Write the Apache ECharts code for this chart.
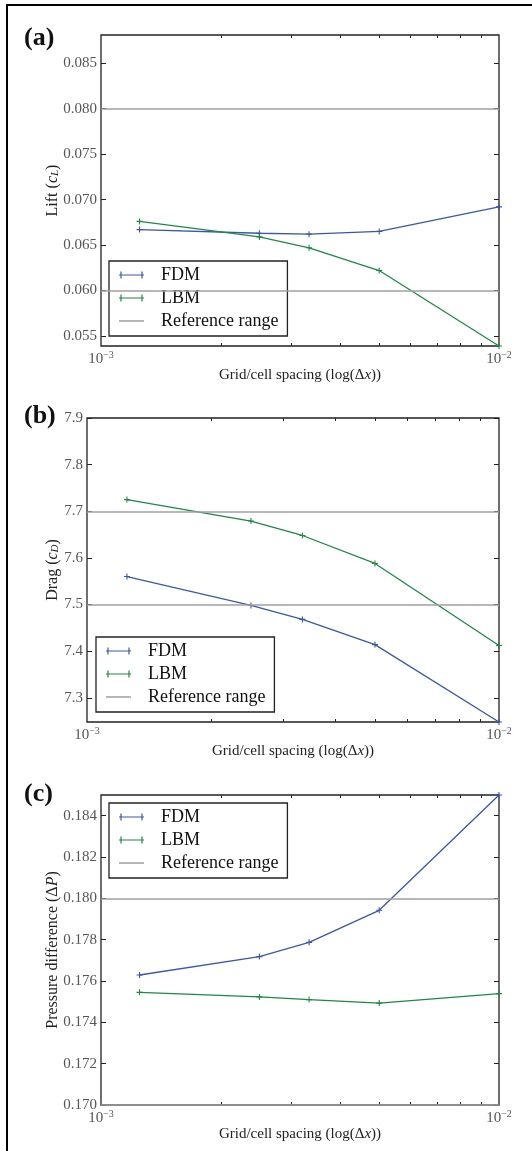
<!DOCTYPE html>
<html>
<head>
<meta charset="utf-8">
<script src="https://cdn.jsdelivr.net/npm/echarts@6/dist/echarts.min.js"></script>
<style>
html, body { margin: 0; padding: 0; background: #fff; }
#main { width: 532px; height: 1151px; }
</style>
</head>
<body>
<div id="main"></div>
<script>
// 网格间距 (Δx)
var spacing = [0.00125, 0.0025, 0.003333, 0.005, 0.01];

// (a) 升力
var liftFdm = [0.0667, 0.0663, 0.0662, 0.0665, 0.0692];
var liftLbm = [0.0676, 0.0659, 0.0647, 0.0622, 0.0539];
var liftRef = [0.060, 0.080];
var liftTicks = [0.055, 0.060, 0.065, 0.070, 0.075, 0.080, 0.085];

// (b) 阻力
var dragFdm = [7.560, 7.498, 7.468, 7.414, 7.248];
var dragLbm = [7.725, 7.679, 7.648, 7.588, 7.412];
var dragRef = [7.5, 7.7];
var dragTicks = [7.3, 7.4, 7.5, 7.6, 7.7, 7.8, 7.9];

// (c) 压差
var presFdm = [0.17629, 0.17718, 0.17787, 0.17942, 0.1850];
var presLbm = [0.17545, 0.17523, 0.17510, 0.17493, 0.17539];
var presRef = [0.172, 0.180];
var presTicks = [0.170, 0.172, 0.174, 0.176, 0.178, 0.180, 0.182, 0.184];

// x 轴刻度
var xLabelTicks = [0.001, 0.01];
var xMinorTicks = [0.002, 0.003, 0.004, 0.005, 0.006, 0.007, 0.008, 0.009];

var serif = 'Liberation Serif';
var blue = '#3a56ae';
var green = '#1b8a44';
var grey = '#a0a0a0';
var plus = 'path://M0,2.45h6v1.1h-6z M2.45,0h1.1v6h-1.1z';

var panels = [
    {
        tag: '(a)', tagTop: 25,
        grid: { left: 101, top: 35, width: 398, height: 311 },
        min: 0.0539, max: 0.0881, ticks: liftTicks, digits: 3,
        name: 'Lift ({i|c}{sub|L})', nameGap: 40,
        fdm: liftFdm, lbm: liftLbm, ref: liftRef,
        legend: { left: 109, top: 261 }
    },
    {
        tag: '(b)', tagTop: 403,
        grid: { left: 87, top: 418, width: 412, height: 304 },
        min: 7.248, max: 7.9, ticks: dragTicks, digits: 1,
        name: 'Drag ({i|c}{sub|D})', nameGap: 26,
        fdm: dragFdm, lbm: dragLbm, ref: dragRef,
        legend: { left: 96, top: 637 }
    },
    {
        tag: '(c)', tagTop: 781,
        grid: { left: 101, top: 795, width: 398, height: 310 },
        min: 0.170, max: 0.185, ticks: presTicks, digits: 3,
        name: 'Pressure difference (Δ{i|P})', nameGap: 40,
        fdm: presFdm, lbm: presLbm, ref: presRef,
        legend: { left: 109, top: 803 }
    }
];

function pairs(ys) {
    return spacing.map(function (x, i) { return [x, ys[i]]; });
}

var option = {
    animation: false,
    backgroundColor: '#fff',
    grid: [], xAxis: [], yAxis: [], series: [], legend: [],
    graphic: [{
        type: 'rect',
        shape: { x: 7, y: 5, width: 560, height: 1180 },
        style: { fill: 'none', stroke: '#000', lineWidth: 2 },
        silent: true
    }]
};

panels.forEach(function (p, k) {
    var g = p.grid;
    option.grid.push({
        left: g.left, top: g.top, width: g.width, height: g.height,
        show: true, borderColor: '#222', borderWidth: 1.3, backgroundColor: '#fff'
    });
    // 底部 x 轴
    option.xAxis.push({
        type: 'log', logBase: 10, min: 0.001, max: 0.01, gridIndex: k, position: 'bottom',
        axisLine: { show: false },
        splitLine: { show: false },
        axisTick: { show: true, inside: true, length: 3, customValues: xMinorTicks, lineStyle: { color: '#222' } },
        axisLabel: {
            customValues: xLabelTicks, margin: 4,
            formatter: function (v) {
                return '{b|10}{s|−' + Math.round(-Math.log10(v)) + '}';
            },
            rich: {
                b: { fontFamily: serif, fontSize: 15, color: '#555', lineHeight: 17, verticalAlign: 'bottom' },
                s: { fontFamily: serif, fontSize: 10, color: '#555', lineHeight: 10, verticalAlign: 'top' }
            }
        },
        name: 'Grid/cell spacing (log(Δ{i|x}))', nameLocation: 'middle', nameGap: 21,
        nameTextStyle: {
            fontFamily: serif, fontSize: 15, color: '#222',
            rich: { i: { fontFamily: serif, fontSize: 15, fontStyle: 'italic', color: '#222' } }
        }
    });
    // 顶部 x 轴 (只显示刻度)
    option.xAxis.push({
        type: 'log', logBase: 10, min: 0.001, max: 0.01, gridIndex: k, position: 'top',
        axisLine: { show: false }, splitLine: { show: false }, axisLabel: { show: false },
        axisTick: { show: true, inside: true, length: 3, customValues: xMinorTicks, lineStyle: { color: '#222' } }
    });
    // 左侧 y 轴
    option.yAxis.push({
        type: 'value', min: p.min, max: p.max, gridIndex: k, position: 'left',
        axisLine: { show: false }, splitLine: { show: false },
        axisTick: { show: true, inside: true, length: 5, customValues: p.ticks, lineStyle: { color: '#222' } },
        axisLabel: {
            customValues: p.ticks, margin: 4, fontFamily: serif, fontSize: 15, color: '#555',
            formatter: function (v) { return v.toFixed(p.digits); }
        },
        name: p.name, nameLocation: 'middle', nameGap: p.nameGap, nameRotate: 90,
        nameMoveOverlap: false,
        nameTextStyle: {
            fontFamily: serif, fontSize: 16, color: '#222',
            rich: {
                i: { fontFamily: serif, fontSize: 16, fontStyle: 'italic', color: '#222' },
                sub: { fontFamily: serif, fontSize: 11, fontStyle: 'italic', color: '#222', verticalAlign: 'bottom', lineHeight: 12 }
            }
        }
    });
    // 右侧 y 轴 (只显示刻度)
    option.yAxis.push({
        type: 'value', min: p.min, max: p.max, gridIndex: k, position: 'right',
        axisLine: { show: false }, splitLine: { show: false }, axisLabel: { show: false },
        axisTick: { show: true, inside: true, length: 5, customValues: p.ticks, lineStyle: { color: '#222' } }
    });

    var xi = 2 * k, yi = 2 * k;
    option.series.push({
        name: 'Reference range', type: 'line', xAxisIndex: xi, yAxisIndex: yi,
        data: [], z: 1,
        itemStyle: { color: grey }, lineStyle: { color: grey, width: 1.5 },
        markLine: {
            silent: true, symbol: ['none', 'none'], label: { show: false },
            lineStyle: { color: grey, width: 1.5, type: 'solid' },
            data: p.ref.map(function (v) { return { yAxis: v }; })
        }
    });
    [['FDM', p.fdm, blue], ['LBM', p.lbm, green]].forEach(function (s) {
        option.series.push({
            name: s[0], type: 'line', xAxisIndex: xi, yAxisIndex: yi,
            data: pairs(s[1]), z: 3, clip: false,
            symbol: plus, symbolSize: 6, showAllSymbol: true,
            itemStyle: { color: s[2] }, lineStyle: { color: s[2], width: 1.3 },
            emphasis: { disabled: true }
        });
    });

    option.legend.push({
        left: p.legend.left, top: p.legend.top, orient: 'vertical',
        backgroundColor: '#fff', borderColor: '#222', borderWidth: 1.3, borderRadius: 0,
        padding: [4, 9, 5, 10], itemGap: 3, itemWidth: 25, itemHeight: 10,
        selectedMode: false,
        data: [
            { name: 'FDM', icon: 'path://M0,4.4h25v1.2h-25z M1.4,1.5h1.2v7h-1.2z M22.4,1.5h1.2v7h-1.2z' },
            { name: 'LBM', icon: 'path://M0,4.4h25v1.2h-25z M1.4,1.5h1.2v7h-1.2z M22.4,1.5h1.2v7h-1.2z' },
            { name: 'Reference range', icon: 'path://M0,4.25h25v1.5h-25z M0,0h0.01v10h-0.01z' }
        ],
        formatter: function (name) { return '{g|}' + name; },
        textStyle: {
            fontFamily: serif, fontSize: 18, color: '#111', lineHeight: 20,
            rich: { g: { width: 12 } }
        }
    });

    option.graphic.push({
        type: 'text', left: 24, top: p.tagTop,
        style: { text: p.tag, font: 'bold 26px "Liberation Serif"', fill: '#111' }
    });
});

var chartDom = document.getElementById('main');
var myChart = echarts.init(chartDom);
option && myChart.setOption(option);
</script>
</body>
</html>
